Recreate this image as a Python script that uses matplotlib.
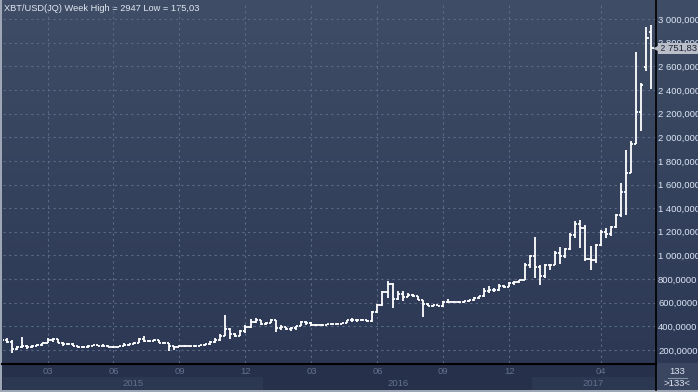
import matplotlib

matplotlib.use("Agg")
import matplotlib.pyplot as plt
import matplotlib.transforms as mtransforms
import numpy as np
import pandas as pd
from matplotlib.patches import Rectangle
from matplotlib.ticker import FuncFormatter

plt.rcParams["font.family"] = ["Liberation Sans", "DejaVu Sans"]

# weekly XBT/USD bars (week labelled by its Friday)
weeks = pd.date_range("2015-01-02", periods=129, freq="W-FRI")
opens = [
    310, 282, 268, 205, 228, 238, 224, 236, 240, 258,
    282, 290, 262, 248, 254, 236, 222, 228, 234, 240,
    236, 238, 226, 228, 232, 244, 250, 262, 290, 278,
    276, 282, 262, 258, 230, 226, 238, 232, 230, 236,
    240, 248, 268, 286, 322, 378, 332, 322, 360, 392,
    436, 452, 422, 432, 450, 385, 396, 376, 382, 402,
    436, 432, 408, 414, 410, 416, 418, 422, 428, 450,
    452, 458, 454, 442, 524, 580, 688, 760, 628, 672,
    650, 664, 656, 624, 590, 572, 580, 574, 606, 608,
    610, 602, 614, 620, 640, 656, 700, 704, 708, 738,
    734, 766, 776, 790, 922, 998, 905, 822, 918, 920,
    1020, 998, 1052, 1176, 1270, 1230, 968, 960, 1085, 1200,
    1180, 1240, 1340, 1535, 1700, 1945, 2211, 2590, 2890,
]
highs = [
    318, 300, 285, 236, 310, 242, 240, 250, 262, 298,
    298, 297, 270, 260, 262, 238, 236, 240, 245, 245,
    248, 242, 232, 237, 256, 252, 270, 300, 318, 282,
    297, 285, 270, 262, 232, 242, 245, 236, 240, 241,
    253, 272, 298, 334, 495, 386, 340, 367, 408, 465,
    470, 457, 437, 460, 455, 411, 398, 392, 405, 446,
    444, 440, 421, 419, 420, 424, 425, 432, 456, 469,
    462, 462, 457, 530, 588, 700, 780, 765, 700, 700,
    680, 676, 660, 627, 600, 582, 584, 612, 630, 614,
    612, 618, 623, 645, 661, 721, 745, 728, 755, 750,
    775, 780, 795, 935, 1000, 1160, 915, 930, 928, 1040,
    1070, 1060, 1190, 1290, 1300, 1260, 1080, 1100, 1218, 1235,
    1252, 1354, 1617, 1888, 1967, 2720, 2457, 2932, 2947,
]
lows = [
    276, 262, 175.03, 198, 220, 212, 215, 232, 234, 255,
    268, 258, 238, 240, 232, 215, 218, 217, 231, 232,
    232, 224, 220, 226, 230, 238, 248, 258, 270, 270,
    272, 258, 255, 195, 200, 224, 226, 224, 224, 234,
    236, 245, 262, 277, 320, 295, 311, 316, 345, 386,
    432, 413, 415, 428, 355, 370, 366, 364, 370, 400,
    414, 399, 400, 406, 408, 410, 416, 419, 428, 437,
    441, 448, 435, 437, 517, 572, 640, 555, 620, 612,
    645, 650, 620, 480, 570, 565, 568, 565, 600, 602,
    594, 598, 608, 616, 631, 650, 680, 694, 703, 725,
    730, 750, 765, 790, 890, 810, 750, 810, 880, 915,
    930, 980, 1050, 1150, 1060, 950, 880, 940, 1080, 1150,
    1167, 1235, 1328, 1345, 1700, 1939, 2050, 2559, 2406,
]
closes = [
    282, 268, 205, 228, 238, 224, 236, 240, 258, 282,
    290, 262, 248, 254, 236, 222, 228, 234, 240, 236,
    238, 226, 228, 232, 244, 250, 262, 290, 278, 276,
    282, 262, 258, 230, 226, 238, 232, 230, 236, 240,
    248, 268, 286, 322, 378, 332, 322, 360, 392, 436,
    452, 422, 432, 450, 385, 396, 376, 382, 402, 436,
    432, 408, 414, 410, 416, 418, 422, 428, 450, 452,
    458, 454, 442, 524, 580, 688, 760, 628, 672, 650,
    664, 656, 624, 590, 572, 580, 574, 606, 608, 610,
    602, 614, 620, 640, 656, 700, 704, 708, 738, 734,
    766, 776, 790, 922, 998, 905, 822, 918, 920, 1020,
    998, 1052, 1176, 1270, 1230, 968, 960, 1085, 1200, 1180,
    1240, 1340, 1535, 1700, 1945, 2211, 2440, 2840, 2751.83,
]

tick_months = ["2015-03", "2015-06", "2015-09", "2015-12",
               "2016-03", "2016-06", "2016-09", "2016-12", "2017-04"]
years = [2015, 2016, 2017]
y_ticks = list(range(200, 3001, 200))
bar_count = 133


def fmt_num(v, decimals):
    return f"{v:,.{decimals}f}".replace(",", " ").replace(".", ",")


W, H = 698, 392
BG_TOP = np.array([63, 77, 102]) / 255
BG_BOT = np.array([44, 56, 84]) / 255
GRID = "#5c6a87"
LABEL = "#62708c"

fig = plt.figure(figsize=(W / 100, H / 100), dpi=100)

# background layer in pixel coordinates (y down)
bg = fig.add_axes([0, 0, 1, 1])
bg.set_axis_off()
bg.set_xlim(0, W)
bg.set_ylim(H, 0)
grad = np.linspace(0, 1, 256)[:, None, None]
grad = BG_TOP * (1 - grad) + BG_BOT * grad
bg.imshow(grad, extent=(0, W, 363, 0), aspect="auto", origin="upper")
bg.add_patch(Rectangle((0, 363), W, 29, color="#26304a", lw=0))
bg.add_patch(Rectangle((656, 363), W - 656, 27, color="#3a4660", lw=0))
bg.add_patch(Rectangle((0, 0), 2, H, color="#9ea7b6", lw=0))
bg.add_patch(Rectangle((0, 390), W, 2, color="#9ea7b6", lw=0))
bg.plot([655.5, 655.5], [0, 390], color="black", lw=1.2)
bg.plot([2, 655.5], [363.5, 363.5], color="black", lw=1.5)
bg.text(677, 371, str(bar_count), color="#dfe6f2", fontsize=6.8, ha="center", va="center")
bg.plot([668, 687], [377.5, 377.5], color="#8390a6", lw=0.8)
bg.text(677, 384, f">{bar_count}<", color="#dfe6f2", fontsize=6.8, ha="center", va="center")

title = (f"XBT/USD(JQ) Week High = {fmt_num(max(highs), 0).replace(' ', '')} "
         f"Low = {fmt_num(min(lows), 2)}")
bg.text(4, 8.5, title, color="#e2e8f2", fontsize=6.7, ha="left", va="center")

# price panel
ax = fig.add_axes([3 / W, 1 - 363 / H, 652 / W, 361 / H])
ax.patch.set_visible(False)
x = np.arange(len(weeks))
ax.vlines(x, lows, highs, color="white", lw=1.3, capstyle="butt", zorder=3)
ax.hlines(opens, x - 0.42, x, color="white", lw=1.3, zorder=3)
ax.hlines(closes, x, x + 0.42, color="white", lw=1.3, zorder=3)
ax.set_xlim(0.23, 128.7)
ax.set_ylim(90, 3144)

labels = weeks.strftime("%Y-%m")
tick_pos = [int(np.argmax(labels == m)) for m in tick_months]
ax.set_xticks(tick_pos, [m[-2:] for m in tick_months])
ax.set_yticks(y_ticks)
ax.yaxis.tick_right()
ax.yaxis.set_major_formatter(FuncFormatter(lambda v, p: fmt_num(v, 4)))
ax.tick_params(axis="y", length=0, pad=2.2, labelsize=6.8, labelcolor="#dde6f5")
ax.tick_params(axis="x", length=0, pad=3.2, labelsize=6.8, labelcolor=LABEL)
ax.grid(True, color=GRID, lw=0.8, linestyle=(0, (2, 3)))
ax.set_axisbelow(True)
for s in ax.spines.values():
    s.set_visible(False)

# last price marker
last_tr = mtransforms.blended_transform_factory(ax.transAxes, ax.transData)
ax.annotate(fmt_num(closes[-1], 2), xy=(1, closes[-1]), xycoords=last_tr,
            xytext=(3.3, 0), textcoords="offset points", ha="left", va="center",
            fontsize=6.8, color="#1b2233", annotation_clip=False,
            bbox=dict(boxstyle="square,pad=0.14", fc="#b9bec8", ec="none"))
ax.plot([1.003], [closes[-1]], marker="<", ms=4, color="#b9bec8",
        transform=last_tr, clip_on=False, zorder=5)

# year band under the month labels
yax = fig.add_axes([3 / W, 2 / H, 652 / W, 13.5 / H])
yax.set_xlim(ax.get_xlim())
yax.set_ylim(0, 1)
yax.set_axis_off()
years_of = weeks.year
edges = [ax.get_xlim()[0]]
for yr in years[1:]:
    edges.append(int(np.argmax(years_of == yr)) - 0.5)
edges.append(ax.get_xlim()[1])
for i, yr in enumerate(years):
    if i % 2 == 0:
        yax.axvspan(edges[i], edges[i + 1], color="#2c3752", lw=0)
    yax.text((edges[i] + edges[i + 1]) / 2, 0.5, str(yr), color=LABEL,
             fontsize=6.8, ha="center", va="center")

fig.savefig("out.png", dpi=100)
